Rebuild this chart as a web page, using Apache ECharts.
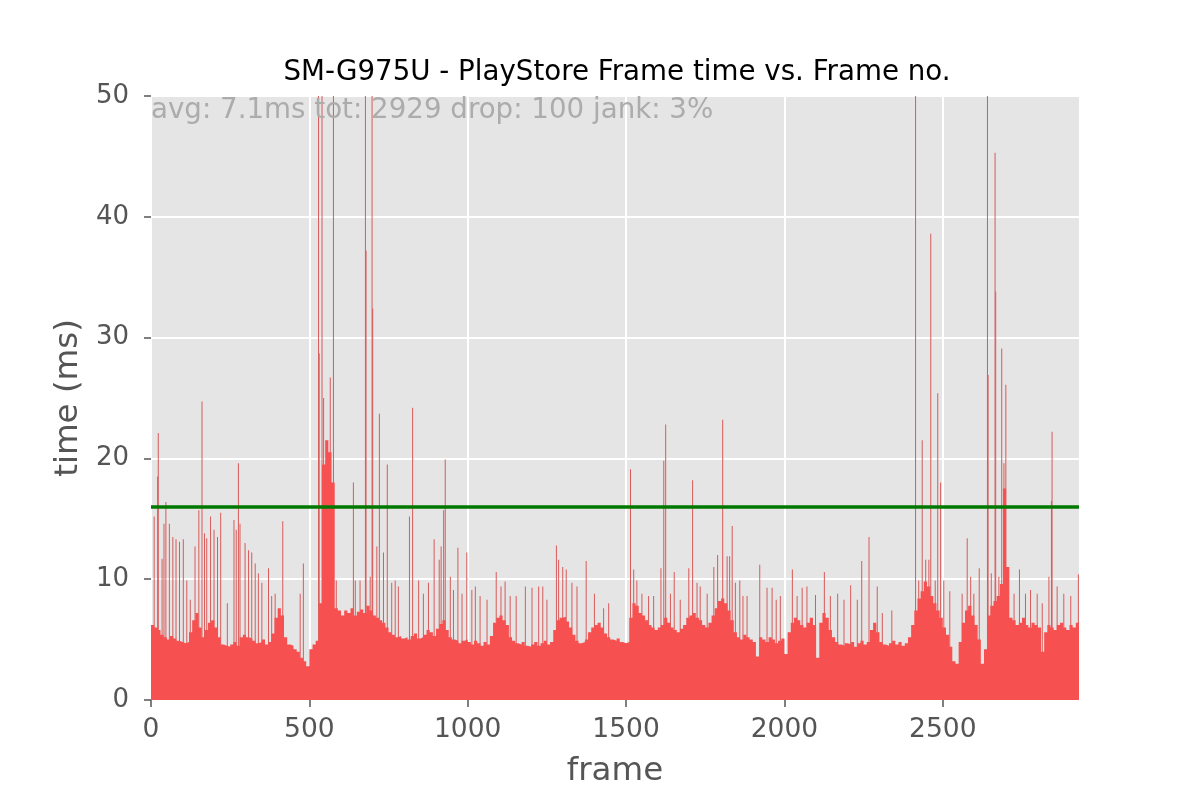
<!DOCTYPE html>
<html>
<head>
<meta charset="utf-8">
<script src="https://cdn.jsdelivr.net/npm/echarts@6/dist/echarts.min.js"></script>
<style>html,body{margin:0;padding:0;background:#fff}#c{width:1200px;height:800px}</style>
</head>
<body>
<div id="c"></div>
<script>
// Frame time per bin of 10 frames (typical body level, ms), bins start at frame 0
const binSize = 10;
const baseTimes = [
  6.2, 6.0, 5.8, 5.4, 5.2, 5.0, 5.3, 5.1, 4.9, 4.8,
  4.7, 4.8, 5.6, 6.6, 7.2, 6.0, 5.2, 5.8, 6.4, 6.6,
  6.0, 5.2, 4.6, 4.5, 4.4, 4.6, 4.8, 4.5, 5.2, 5.4,
  5.2, 5.1, 4.9, 4.7, 4.8, 5.0, 4.6, 4.8, 5.5, 6.8,
  7.6, 7.0, 5.2, 4.6, 4.5, 4.2, 4.0, 3.5, 3.2, 2.8,
  4.2, 4.6, 4.9, 8.0, 19.5, 21.5, 20.5, 18.0, 7.6, 7.4,
  7.0, 7.4, 7.2, 7.6, 7.0, 7.3, 7.5, 7.2, 7.8, 7.4,
  7.0, 6.8, 6.6, 6.4, 6.0, 5.6, 5.4, 5.2, 5.3, 5.1,
  5.2, 5.0, 5.3, 5.5, 5.1, 5.2, 5.4, 5.8, 5.6, 5.3,
  5.9, 6.3, 6.6, 5.8, 5.2, 5.0, 4.9, 4.7, 4.9, 5.0,
  4.8, 4.6, 4.9, 4.7, 4.5, 4.8, 4.6, 5.3, 6.4, 6.8,
  7.0, 6.6, 6.2, 5.2, 4.9, 4.7, 4.6, 4.8, 4.5, 4.4,
  4.6, 4.8, 4.5, 4.7, 4.9, 4.6, 4.8, 5.8, 6.6, 6.8,
  6.9, 6.5, 6.0, 5.4, 4.9, 4.7, 4.8, 5.0, 5.6, 6.0,
  6.2, 6.4, 6.0, 5.5, 5.2, 5.0, 4.9, 5.1, 4.8, 4.7,
  4.8, 6.8, 8.0, 7.8, 7.2, 7.0, 6.6, 6.2, 6.0, 5.8,
  6.0, 6.2, 6.8, 6.4, 6.0, 5.8, 5.6, 5.9, 6.2, 6.8,
  7.0, 7.2, 6.8, 6.6, 6.2, 6.0, 6.4, 7.0, 7.6, 8.2,
  8.4, 8.0, 7.4, 6.6, 5.6, 5.2, 5.0, 5.4, 5.2, 5.0,
  4.8, 3.6, 5.2, 5.0, 4.8, 5.2, 5.0, 4.7, 4.9, 5.1,
  3.8, 5.6, 6.4, 6.8, 6.6, 6.2, 6.0, 6.4, 6.8, 6.2,
  3.5, 6.4, 7.2, 6.8, 5.8, 5.2, 4.8, 4.6, 4.5, 4.7,
  4.6, 4.8, 4.4, 4.7, 4.9, 4.6, 4.8, 5.8, 6.4, 5.6,
  4.8, 4.6, 4.5, 4.7, 4.9, 4.6, 4.8, 4.5, 4.7, 5.2,
  6.2, 7.4, 8.4, 9.0, 9.8, 9.4, 8.6, 8.0, 7.4, 6.8,
  6.0, 5.4, 4.4, 3.2, 3.0, 4.8, 6.4, 7.4, 7.8, 7.0,
  6.2, 5.0, 3.0, 4.2, 7.0, 7.8, 8.2, 8.6, 9.6, 17.5,
  11.0, 6.8, 6.6, 6.2, 6.4, 6.8, 6.2, 6.0, 6.4, 6.2,
  6.0, 4.0, 5.6, 6.2, 6.0, 5.8, 6.2, 6.4, 6.0, 5.8,
  6.2, 6.0, 6.4
];

// Individual spike frames (frame number) and their times (ms); values above 50 are clipped
const spikeFrames = [
  10, 21, 23, 35, 41, 47, 58, 69, 79, 90, 102, 113, 124, 139, 151, 161, 169, 176, 188, 199,
  210, 220, 241, 262, 269, 276, 281, 297, 308, 318, 329, 339, 350, 371, 381, 392, 416, 471, 481,
  529, 531, 540, 545, 566, 576, 585, 639, 645, 660, 677, 679, 692, 698, 700, 713, 721, 734, 746,
  760, 771, 781, 816, 826, 845, 860, 876, 894, 910, 916, 924, 929, 945, 955, 969, 982, 997,
  1013, 1024, 1039, 1061, 1090, 1105, 1118, 1134, 1153, 1182, 1203, 1224, 1237, 1250, 1280,
  1287, 1300, 1311, 1329, 1345, 1374, 1400, 1429, 1445, 1514, 1524, 1534, 1550, 1571, 1587,
  1610, 1619, 1625, 1640, 1652, 1671, 1698, 1710, 1724, 1734, 1756, 1777, 1789, 1805, 1819,
  1827, 1835, 1845, 1859, 1869, 1882, 1922, 1945, 1961, 1974, 1987, 2025, 2040, 2056, 2071,
  2098, 2126, 2145, 2168, 2188, 2209, 2230, 2244, 2267, 2293, 2309, 2339, 2414, 2424, 2435,
  2446, 2456, 2462, 2476, 2484, 2493, 2503, 2522, 2561, 2577, 2588, 2598, 2615, 2641, 2643,
  2653, 2665, 2667, 2677, 2686, 2693, 2699, 2725, 2742, 2761, 2777, 2798, 2814, 2835, 2843,
  2845, 2861, 2882, 2904, 2928
];
const spikeTimes = [
  15.2, 18.5, 22.1, 11.7, 14.6, 16.4, 14.6, 13.5, 13.3, 13.1, 13.3, 9.9, 8.3, 12.7, 15.7, 24.7, 13.8, 13.4, 15.2, 14.1,
  13.5, 15.5, 8.0, 14.9, 14.1, 19.6, 14.6, 13.0, 12.4, 12.2, 11.3, 10.5, 9.7, 10.9, 8.6, 8.8, 14.8, 8.8, 11.3,
  55, 28.7, 55, 25.0, 26.7, 55, 9.9, 18.0, 9.9, 9.9, 55, 37.2, 10.2, 55, 32.4, 12.7, 23.7, 12.2, 19.5,
  9.7, 9.9, 9.4, 15.2, 24.2, 9.9, 8.8, 9.7, 13.3, 11.6, 12.7, 15.7, 19.9, 10.2, 9.1, 12.6, 8.8, 12.2,
  9.1, 9.4, 8.6, 8.3, 10.6, 9.4, 9.8, 8.6, 8.6, 9.4, 9.3, 9.4, 9.4, 8.3, 12.8,
  11.6, 11.0, 10.8, 9.7, 9.4, 11.5, 8.8, 7.6, 8.0, 19.1, 10.8, 9.9, 8.8, 8.6, 8.6,
  10.9, 19.8, 22.8, 8.8, 10.6, 8.3, 10.9, 18.2, 9.7, 9.4, 8.8, 11.0, 12.0, 23.2, 11.9,
  11.9, 14.4, 9.7, 9.9, 8.6, 8.6, 11.2, 9.3, 9.3, 8.3, 8.6, 10.8, 8.6, 9.3, 9.4,
  8.7, 10.6, 8.6, 8.8, 8.3, 9.5, 8.3, 11.5, 13.5, 9.4, 7.2, 7.4, 55, 9.9, 21.5,
  11.6, 11.6, 38.6, 9.9, 25.4, 18.0, 9.9, 9.0, 8.8, 13.4, 10.2, 8.8, 10.9, 55, 26.9,
  10.5, 45.3, 33.8, 10.2, 29.1, 19.6, 26.1, 8.8, 10.8, 8.8, 9.1, 8.8, 8.0, 10.2, 16.5,
  22.2, 9.4, 8.8, 8.6, 10.4
];

const jankThreshold = 16;
const xTicks = [0, 500, 1000, 1500, 2000, 2500];
const totalFrames = 2930;
const titleText = 'SM-G975U - PlayStore Frame time vs. Frame no.';
const statsText = 'avg: 7.1ms tot: 2929 drop: 100 jank: 3%';

// step area: each point is the start of a bin; a closing point ends the last bin
const baseData = baseTimes.map((v, i) => [i * binSize, v]);
baseData.push([baseTimes.length * binSize, baseTimes[baseTimes.length - 1]]);
const spikeData = spikeFrames.map((f, i) => [f, spikeTimes[i]]);

const chart = echarts.init(document.getElementById('c'), null, {renderer: 'canvas'});
const font = 'DejaVu Sans';
chart.setOption({
  animation: false,
  backgroundColor: '#ffffff',
  title: {
    text: titleText, left: 612, top: 54, textAlign: 'center',
    textStyle: {fontFamily: font, fontSize: 27.7, fontWeight: 'normal', color: '#000'}
  },
  grid: {left: 151, right: 121, top: 96, bottom: 100, show: true, backgroundColor: '#e5e5e5', borderWidth: 0},
  xAxis: [
    {
      type: 'value', min: 0, max: totalFrames, interval: 500,
      name: 'frame', nameLocation: 'middle', nameGap: 55,
      nameTextStyle: {fontFamily: font, fontSize: 32.5, color: '#555'},
      axisLine: {show: false},
      axisTick: {show: true, length: 7, lineStyle: {color: '#555', width: 1.5}, customValues: xTicks},
      axisLabel: {show: true, color: '#555', fontFamily: font, fontSize: 26.5, margin: 17,
        customValues: xTicks, formatter: v => String(v)},
      splitLine: {show: true, lineStyle: {color: '#ffffff', width: 2}}
    },
    {type: 'value', min: 0, max: totalFrames, show: false}
  ],
  yAxis: {
    type: 'value', min: 0, max: 50, interval: 10,
    name: 'time (ms)', nameLocation: 'middle', nameGap: 66,
    nameTextStyle: {fontFamily: font, fontSize: 32.5, color: '#555'},
    axisLine: {show: false},
    axisTick: {show: true, length: 7, lineStyle: {color: '#555', width: 1.5}},
    axisLabel: {color: '#555', fontFamily: font, fontSize: 26, margin: 22, formatter: v => String(v)},
    splitLine: {show: true, lineStyle: {color: '#ffffff', width: 2}}
  },
  graphic: [{
    type: 'text', left: 151, top: 97, z: 100,
    style: {text: statsText, fontFamily: font, fontSize: 27.7, fill: '#acacac'}
  }],
  series: [
    {
      type: 'bar', xAxisIndex: 1, data: spikeData, barWidth: 1, clip: true,
      itemStyle: {color: '#d95a5a'}, silent: true, z: 2
    },
    {
      type: 'line', xAxisIndex: 0, data: baseData, step: 'end', clip: true,
      showSymbol: false, symbol: 'none',
      lineStyle: {width: 0, color: '#f65050'},
      areaStyle: {color: '#f65050', opacity: 1},
      silent: true, z: 3,
      markLine: {
        silent: true, symbol: ['none', 'none'], label: {show: false},
        lineStyle: {color: '#007800', width: 3.5, type: 'solid'},
        data: [{yAxis: jankThreshold}]
      }
    }
  ]
});
</script>
</body>
</html>
